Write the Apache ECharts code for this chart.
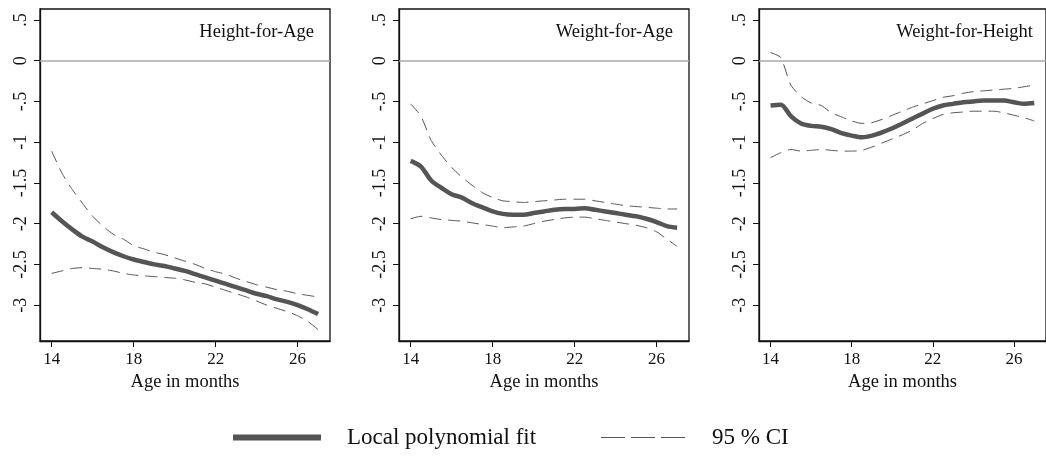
<!DOCTYPE html>
<html>
<head>
<meta charset="utf-8">
<script src="https://cdn.jsdelivr.net/npm/echarts@6/dist/echarts.min.js"></script>
<style>
html,body{margin:0;padding:0;background:#fff;}
#chart{width:1046px;height:456px;}
</style>
</head>
<body>
<div id="chart"></div>
<script>
// ---- data ----
const ages = [14,14.5,15,15.5,16,16.5,17,17.5,18,18.5,19,19.5,20,20.5,21,21.5,22,22.5,23,23.5,24,24.5,25,25.5,26,26.5,27];

const panelTitles = ['Height-for-Age', 'Weight-for-Age', 'Weight-for-Height'];

const hfaFit   = [-1.86,-1.97,-2.07,-2.16,-2.22,-2.29,-2.35,-2.40,-2.44,-2.47,-2.50,-2.52,-2.55,-2.58,-2.62,-2.66,-2.70,-2.74,-2.78,-2.82,-2.86,-2.89,-2.93,-2.96,-3.00,-3.05,-3.11];
const hfaUpper = [-1.11,-1.38,-1.58,-1.75,-1.91,-2.03,-2.13,-2.19,-2.27,-2.31,-2.35,-2.38,-2.42,-2.46,-2.50,-2.55,-2.59,-2.62,-2.67,-2.71,-2.75,-2.78,-2.81,-2.83,-2.86,-2.88,-2.90];
const hfaLower = [-2.61,-2.58,-2.55,-2.54,-2.55,-2.56,-2.58,-2.61,-2.63,-2.64,-2.65,-2.66,-2.67,-2.69,-2.72,-2.74,-2.78,-2.82,-2.86,-2.90,-2.95,-3.00,-3.04,-3.08,-3.13,-3.20,-3.30];

const wfaFit   = [-1.23,-1.30,-1.47,-1.56,-1.64,-1.68,-1.75,-1.80,-1.85,-1.88,-1.89,-1.89,-1.87,-1.85,-1.83,-1.82,-1.82,-1.81,-1.83,-1.85,-1.87,-1.89,-1.91,-1.94,-1.98,-2.03,-2.05];
const wfaUpper = [-0.53,-0.68,-0.98,-1.16,-1.31,-1.43,-1.53,-1.62,-1.68,-1.72,-1.73,-1.74,-1.73,-1.72,-1.71,-1.70,-1.70,-1.70,-1.72,-1.74,-1.76,-1.78,-1.79,-1.80,-1.81,-1.82,-1.82];
const wfaLower = [-1.94,-1.91,-1.93,-1.95,-1.96,-1.97,-1.99,-2.01,-2.03,-2.05,-2.04,-2.03,-2.00,-1.97,-1.95,-1.93,-1.92,-1.92,-1.94,-1.96,-1.98,-2.00,-2.02,-2.05,-2.10,-2.19,-2.28];

const wfhFit   = [-0.55,-0.54,-0.68,-0.77,-0.80,-0.81,-0.84,-0.89,-0.92,-0.94,-0.92,-0.88,-0.83,-0.77,-0.71,-0.65,-0.59,-0.55,-0.53,-0.51,-0.50,-0.49,-0.49,-0.49,-0.51,-0.53,-0.52];
const wfhUpper = [0.10,0.04,-0.30,-0.44,-0.52,-0.55,-0.64,-0.69,-0.74,-0.77,-0.76,-0.72,-0.67,-0.62,-0.57,-0.53,-0.49,-0.45,-0.43,-0.40,-0.38,-0.37,-0.36,-0.35,-0.34,-0.32,-0.30];
const wfhLower = [-1.19,-1.13,-1.09,-1.11,-1.10,-1.09,-1.10,-1.11,-1.11,-1.10,-1.06,-1.01,-0.96,-0.91,-0.85,-0.77,-0.71,-0.66,-0.64,-0.63,-0.62,-0.62,-0.62,-0.64,-0.67,-0.70,-0.74];

const xTicks = [14, 18, 22, 26];
const yTicks = [-3, -2.5, -2, -1.5, -1, -0.5, 0, 0.5];
const yTickLabels = ['-3', '-2.5', '-2', '-1.5', '-1', '-.5', '0', '.5'];
const xAxisTitle = 'Age in months';
const fitName = 'Local polynomial fit';
const ciName = '95 % CI';

// ---- chart ----
const FONT = 'Liberation Serif';
const panels = [
  {fit: hfaFit, up: hfaUpper, lo: hfaLower},
  {fit: wfaFit, up: wfaUpper, lo: wfaLower},
  {fit: wfhFit, up: wfhUpper, lo: wfhLower}
];
const gridLefts = [40, 399, 759];
const pair = (xs, ys) => xs.map((x, i) => [x, ys[i]]);
const yLabelMap = {};
yTicks.forEach((v, i) => { yLabelMap[String(v)] = yTickLabels[i]; });

const grids = [], xAxes = [], yAxes = [], series = [], titles = [];
panels.forEach((p, k) => {
  grids.push({left: gridLefts[k], top: 9, width: 290, height: 332, show: true,
    borderColor: '#111', borderWidth: 1.3, backgroundColor: '#fff'});
  xAxes.push({type: 'value', gridIndex: k, min: 13.43, max: 27.58,
    name: xAxisTitle, nameLocation: 'middle', nameGap: 29,
    nameTextStyle: {fontFamily: FONT, fontSize: 18.5, color: '#111'},
    splitLine: {show: false},
    axisLine: {show: true, onZero: false, lineStyle: {color: '#111', width: 1.3}},
    axisTick: {show: true, length: 6, inside: false, customValues: xTicks, lineStyle: {color: '#111'}},
    axisLabel: {customValues: xTicks, margin: 10, fontFamily: FONT, fontSize: 17, color: '#111'}
  });
  yAxes.push({type: 'value', gridIndex: k, min: -3.44, max: 0.634,
    splitLine: {show: false},
    axisLine: {show: true, onZero: false, lineStyle: {color: '#111', width: 1.3}},
    axisTick: {show: true, length: 6, inside: false, customValues: yTicks, lineStyle: {color: '#111'}},
    axisLabel: {customValues: yTicks, rotate: 90, margin: 10, fontFamily: FONT, fontSize: 18, color: '#111',
      formatter: v => yLabelMap[String(Math.round(v * 10) / 10)] ?? ''}
  });
  titles.push({text: panelTitles[k], right: 1046 - (gridLefts[k] + 290) + 11, top: 18,
    textStyle: {fontFamily: FONT, fontSize: 18.5, fontWeight: 'normal', color: '#111'}});
  series.push({type: 'line', name: ciName, xAxisIndex: k, yAxisIndex: k, data: pair(ages, p.up),
    showSymbol: false, symbol: 'none', smooth: 0.2, silent: true,
    lineStyle: {color: '#555', width: 1, type: [12, 7]}, z: 3});
  series.push({type: 'line', name: ciName, xAxisIndex: k, yAxisIndex: k, data: pair(ages, p.lo),
    showSymbol: false, symbol: 'none', smooth: 0.2, silent: true,
    lineStyle: {color: '#555', width: 1, type: [12, 7]}, z: 3});
  series.push({type: 'line', name: fitName, xAxisIndex: k, yAxisIndex: k, data: pair(ages, p.fit),
    showSymbol: false, symbol: 'none', smooth: 0.3, silent: true,
    lineStyle: {color: '#555', width: 4.5}, z: 4,
    markLine: {silent: true, symbol: 'none', label: {show: false},
      lineStyle: {color: '#a8a8a8', width: 1.5, type: 'solid'},
      data: [{yAxis: 0}]}
  });
});

const chart = echarts.init(document.getElementById('chart'), null, {renderer: 'canvas'});
chart.setOption({
  backgroundColor: '#fff',
  animation: false,
  title: titles,
  grid: grids,
  xAxis: xAxes,
  yAxis: yAxes,
  legend: [
    {data: [fitName], left: 233, top: 426, padding: 0, itemWidth: 88, itemHeight: 24,
      icon: 'path://M0,9 L88,9 L88,15 L0,15 Z',
      itemStyle: {color: '#555'},
      textStyle: {fontFamily: FONT, fontSize: 23, color: '#111', padding: [0, 0, 0, 21]}},
    {data: [ciName], left: 601, top: 426, padding: 0, itemWidth: 84, itemHeight: 24,
      icon: 'path://M0,11.5 L24,11.5 L24,12.5 L0,12.5 Z M30,11.5 L54,11.5 L54,12.5 L30,12.5 Z M60,11.5 L84,11.5 L84,12.5 L60,12.5 Z',
      itemStyle: {color: '#555'},
      textStyle: {fontFamily: FONT, fontSize: 23, color: '#111', padding: [0, 0, 0, 22]}}
  ],
  series: series
});
</script>
</body>
</html>
